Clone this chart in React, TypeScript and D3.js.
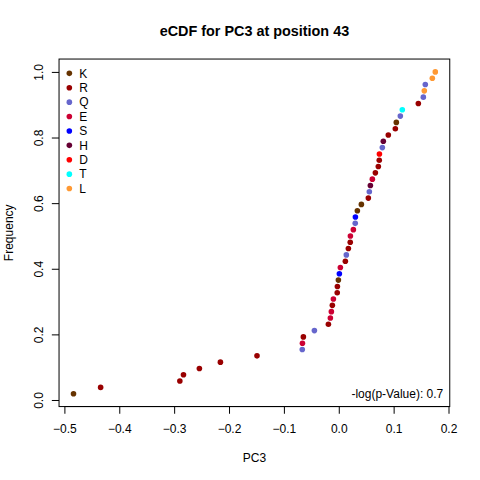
import * as d3 from "d3";
import React, { useEffect, useRef } from "react";

// residue at each observation, already sorted by PC3 value
const residues = [
  "K", "R", "R", "R", "R", "R", "R", "Q", "E", "R",
  "Q", "R", "E", "E", "R", "E", "R", "R", "K", "S",
  "E", "R", "Q", "R", "R", "E", "E", "Q", "S", "K",
  "K", "R", "Q", "H", "E", "R", "R", "R", "D", "Q",
  "H", "R", "R", "K", "Q", "T", "R", "Q", "L", "Q",
  "L", "L",
];
const pc3 = [
  -0.4834, -0.434, -0.2896, -0.283, -0.254, -0.2157, -0.149, -0.0665, -0.0662, -0.0645,
  -0.0444, -0.0189, -0.0153, -0.0135, -0.0117, -0.0098, -0.0028, -0.0025, -0.0007, 0.0011,
  0.0029, 0.012, 0.0138, 0.0175, 0.0209, 0.0212, 0.0266, 0.03, 0.0303, 0.0339,
  0.0412, 0.0539, 0.0557, 0.0576, 0.0612, 0.0667, 0.0721, 0.0738, 0.0741, 0.0794,
  0.0812, 0.0903, 0.1031, 0.1049, 0.1122, 0.1158, 0.145, 0.1541, 0.1559, 0.1577,
  0.1705, 0.1759,
];
const legendKeys = ["K", "R", "Q", "E", "S", "H", "D", "T", "L"];
const legendColors = [
  "#663300", "#990000", "#6666CC", "#CC0033", "#0000FF",
  "#660033", "#FF0000", "#00FFFF", "#FF9933",
];
const xTicks = [-0.5, -0.4, -0.3, -0.2, -0.1, 0.0, 0.1, 0.2];
const yTicks = [0, 0.2, 0.4, 0.6, 0.8, 1.0];
const title = "eCDF for PC3 at position 43";
const pLabel = "-log(p-Value): 0.7";

export default function App() {
  const svgRef = useRef<SVGSVGElement>(null);

  const width = 480;
  const height = 480;
  const line = 14.4; // one R margin line, in pixels
  const marginLeft = 4.1 * line;
  const marginRight = 2.1 * line;
  const marginTop = 4.1 * line;
  const marginBottom = 5.1 * line;
  const font = "'Liberation Sans', Arial, sans-serif";

  useEffect(() => {
    if (!svgRef.current) return;
    const n = pc3.length;
    const freq = pc3.map((_, i) => (i + 1) / n);
    const color = d3.scaleOrdinal(legendKeys, legendColors);

    // R-style 4% padding on both axes
    const [x0, x1] = d3.extent(pc3) as [number, number];
    const [y0, y1] = d3.extent(freq) as [number, number];
    const px = (x1 - x0) * 0.04;
    const py = (y1 - y0) * 0.04;
    const xScale = d3.scaleLinear([x0 - px, x1 + px], [marginLeft, width - marginRight]);
    const yScale = d3.scaleLinear([y0 - py, y1 + py], [height - marginBottom, marginTop]);

    const svg = d3.select(svgRef.current);
    svg.selectAll("*").remove();

    svg.append("rect").attr("width", width).attr("height", height).attr("fill", "white");

    // x axis
    svg
      .append("g")
      .attr("transform", `translate(0,${height - marginBottom})`)
      .call(d3.axisBottom(xScale).tickValues(xTicks).tickSize(7.2).tickSizeOuter(0).tickFormat(d3.format(".1f")))
      .call((g) => g.select(".domain").remove())
      .call((g) => g.selectAll(".tick line").attr("stroke", "black"))
      .call((g) =>
        g
          .selectAll(".tick text")
          .attr("y", 26)
          .attr("dy", null)
          .attr("fill", "black")
          .attr("font-size", 12)
          .attr("font-family", font)
      );
    svg
      .append("line")
      .attr("x1", xScale(xTicks[0]))
      .attr("x2", xScale(xTicks[xTicks.length - 1]))
      .attr("y1", height - marginBottom)
      .attr("y2", height - marginBottom)
      .attr("stroke", "black");

    // y axis
    svg
      .append("g")
      .attr("transform", `translate(${marginLeft},0)`)
      .call(d3.axisLeft(yScale).tickValues(yTicks).tickSize(7.2).tickSizeOuter(0).tickFormat(d3.format(".1f")))
      .call((g) => g.select(".domain").remove())
      .call((g) => g.selectAll(".tick line").attr("stroke", "black"))
      .call((g) =>
        g
          .selectAll(".tick text")
          .attr("transform", "rotate(-90)")
          .attr("x", 0)
          .attr("y", -16.4)
          .attr("dy", null)
          .attr("text-anchor", "middle")
          .attr("fill", "black")
          .attr("font-size", 12)
          .attr("font-family", font)
      );

    // box
    svg
      .append("rect")
      .attr("x", marginLeft)
      .attr("y", marginTop)
      .attr("width", width - marginLeft - marginRight)
      .attr("height", height - marginTop - marginBottom)
      .attr("fill", "none")
      .attr("stroke", "black");

    // points
    svg
      .append("g")
      .selectAll("circle")
      .data(d3.range(n))
      .join("circle")
      .attr("cx", (i) => xScale(pc3[i]))
      .attr("cy", (i) => yScale(freq[i]))
      .attr("r", 2.8)
      .attr("fill", (i) => color(residues[i]));

    // legend
    const legend = svg
      .append("g")
      .selectAll("g")
      .data(legendKeys)
      .join("g")
      .attr("transform", (_, i) => `translate(${marginLeft + 10.3},${marginTop + 14.3 + i * line})`);
    legend.append("circle").attr("r", 2.8).attr("fill", (d) => color(d));
    legend
      .append("text")
      .attr("x", 10)
      .attr("y", 4.3)
      .attr("font-size", 12)
      .attr("font-family", font)
      .text((d) => d);

    svg
      .append("text")
      .attr("x", width - marginRight - 6.5)
      .attr("y", 398)
      .attr("text-anchor", "end")
      .attr("font-size", 12)
      .attr("font-family", font)
      .text(pLabel);

    // titles
    svg
      .append("text")
      .attr("x", (marginLeft + width - marginRight) / 2)
      .attr("y", 36)
      .attr("text-anchor", "middle")
      .attr("font-size", 14.4)
      .attr("font-weight", "bold")
      .attr("font-family", font)
      .text(title);
    svg
      .append("text")
      .attr("x", (marginLeft + width - marginRight) / 2)
      .attr("y", 461.7)
      .attr("text-anchor", "middle")
      .attr("font-size", 12)
      .attr("font-family", font)
      .text("PC3");
    svg
      .append("text")
      .attr("transform", `translate(13.4,${(marginTop + height - marginBottom) / 2}) rotate(-90)`)
      .attr("text-anchor", "middle")
      .attr("font-size", 12)
      .attr("font-family", font)
      .text("Frequency");
  }, []);

  return (
    <svg
      ref={svgRef}
      width={width}
      height={height}
      style={{ position: "absolute", left: 0, top: 0, display: "block" }}
    />
  );
}
